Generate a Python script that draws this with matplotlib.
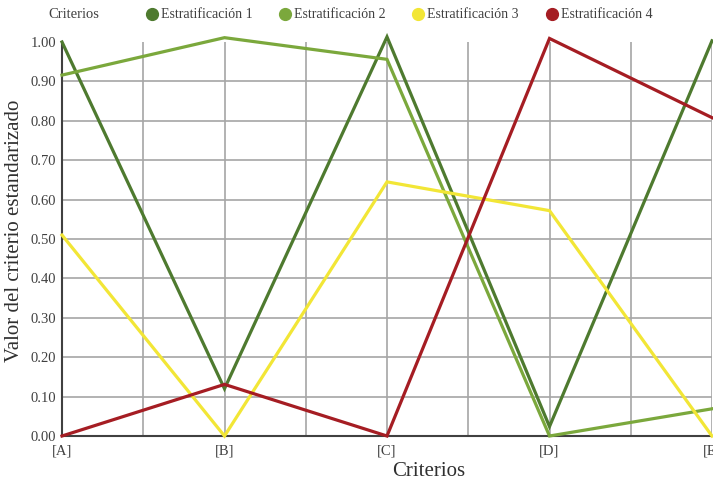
import matplotlib
matplotlib.use('Agg')
import matplotlib.pyplot as plt
from matplotlib.lines import Line2D
import numpy as np

plt.rcParams['font.family'] = ['Liberation Serif', 'DejaVu Serif']

# Data
criterios = ['[A]', '[B]', '[C]', '[D]', '[E]']
series_names = ['Estratificación 1', 'Estratificación 2',
                'Estratificación 3', 'Estratificación 4']
estrat_1 = [1.00, 0.12, 1.013, 0.024, 1.003]
estrat_2 = [0.916, 1.011, 0.956, 0.00, 0.069]
estrat_3 = [0.51, 0.00, 0.645, 0.572, 0.00]
estrat_4 = [0.00, 0.131, 0.00, 1.009, 0.808]
y_ticks = [0.0, 0.1, 0.2, 0.3, 0.4, 0.5, 0.6, 0.7, 0.8, 0.9, 1.0]

colors = ['#4e7a2f', '#7ba83c', '#f2e636', '#a51d23']
grid_color = '#a6a6a6'

fig = plt.figure(figsize=(7.13, 4.82), dpi=100)
ax = fig.add_axes([62/713, 1 - 436/482, 650/713, 394/482])

x = np.arange(len(criterios))
all_series = [estrat_1, estrat_2, estrat_3, estrat_4]
# light green under dark green, yellow under red
order = [2, 1, 0, 3]
for i in order:
    ax.plot(x, all_series[i], color=colors[i], lw=2.3, clip_on=False,
            solid_joinstyle='miter', zorder=3 + i)

ax.set_xlim(0, 4)
ax.set_ylim(0, 1.0)
ax.set_xticks(x)
ax.set_xticklabels(criterios)
ax.set_xticks(np.arange(0.5, 4, 0.5), minor=True)
ax.set_yticks(y_ticks)
ax.set_yticklabels([f'{v:.2f}' for v in y_ticks])

ax.grid(axis='x', which='both', color=grid_color, lw=1.2)
# horizontal gridlines, none at the top value
for v in y_ticks[1:-1]:
    ax.axhline(v, color=grid_color, lw=1.2, zorder=0.5)
ax.set_axisbelow(True)
ax.tick_params(which='both', length=0, labelsize=10.5, colors='#404040')
ax.tick_params(axis='x', pad=6)
ax.tick_params(axis='y', pad=4)

for side in ['top', 'right']:
    ax.spines[side].set_visible(False)
for side in ['left', 'bottom']:
    ax.spines[side].set_color('#404040')
    ax.spines[side].set_linewidth(1.5)

ax.set_xlabel('Criterios', fontsize=15, color='#303030')
ax.xaxis.set_label_coords((429 - 62) / 650, -0.065)
ax.set_ylabel('Valor del criterio estandarizado', fontsize=15,
              color='#303030')
ax.yaxis.set_label_coords(-0.058, 0.52)

fig.text(48/713, 1 - 15/482, 'Criterios', fontsize=10.5, color='#404040',
         va='center', ha='left')
handles = [Line2D([], [], ls='none', marker='o', markersize=8.5,
                  color=c) for c in colors]
fig.legend(handles, series_names, loc='center left',
           bbox_to_anchor=(131/713, 1 - 15/482), ncol=4, frameon=False,
           fontsize=10, handletextpad=0.05, columnspacing=1.75,
           handlelength=1.2, labelcolor='#404040')

fig.savefig('out.png', dpi=100)
